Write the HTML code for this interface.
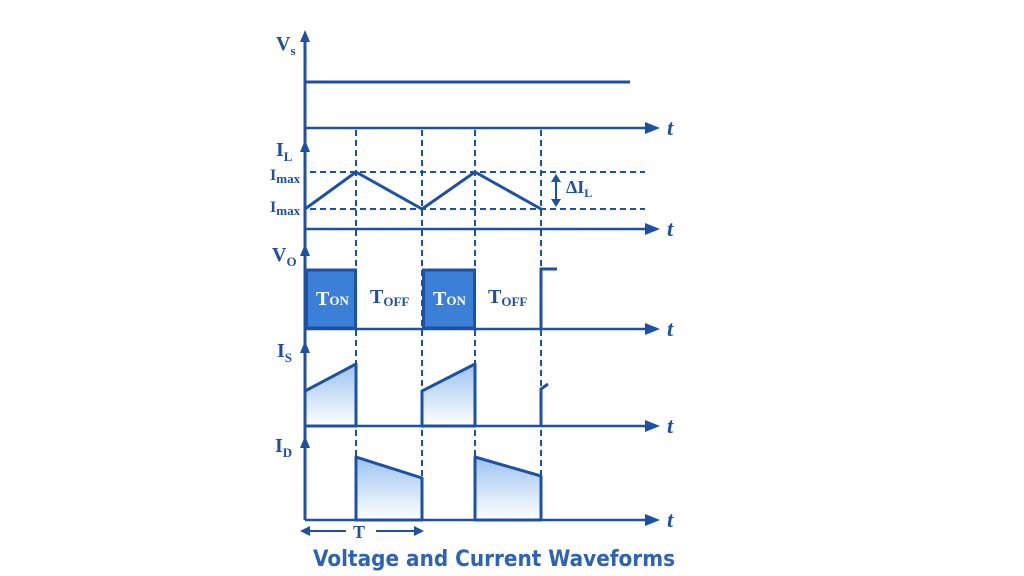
<!DOCTYPE html>
<html><head><meta charset="utf-8"><style>
html,body{margin:0;padding:0;background:#fff;}
svg{display:block}
.lbl{font-family:"Liberation Serif",serif;font-weight:bold;fill:#1f4f9e}
</style></head><body>
<svg width="1024" height="576" viewBox="0 0 1024 576" xmlns="http://www.w3.org/2000/svg">
<defs>
<linearGradient id="g" x1="0" y1="0" x2="0" y2="1"><stop offset="0" stop-color="#9cc3ef"/><stop offset="1" stop-color="#ffffff"/></linearGradient>
</defs>
<g stroke="#1d51a6" fill="none">
<line x1="305" y1="520" x2="305" y2="34" stroke-width="3"/>
<g fill="#1d51a6" stroke="none">
<path d="M305,30 L300,42 L310,42 z"/>
<path d="M305,140 L300,152 L310,152 z"/>
<path d="M305,244 L300,256 L310,256 z"/>
<path d="M305,341 L300,353 L310,353 z"/>
<path d="M305,436 L300,448 L310,448 z"/>
</g>
<g stroke-width="2.5">
<line x1="305" y1="128" x2="648" y2="128"/>
<line x1="305" y1="229" x2="648" y2="229"/>
<line x1="305" y1="329" x2="648" y2="329"/>
<line x1="305" y1="426" x2="648" y2="426"/>
<line x1="305" y1="520" x2="648" y2="520"/>
</g>
<g fill="#1d51a6" stroke="none">
<path d="M660,128 L645,122 L645,134 z"/>
<path d="M660,229 L645,223 L645,235 z"/>
<path d="M660,329 L645,323 L645,335 z"/>
<path d="M660,426 L645,420 L645,432 z"/>
<path d="M660,520 L645,514 L645,526 z"/>
</g>
<line x1="305" y1="82" x2="630" y2="82" stroke-width="3"/>
<g stroke-width="2" stroke-dasharray="6,4">
<line x1="356" y1="130" x2="356" y2="520"/>
<line x1="422" y1="130" x2="422" y2="520"/>
<line x1="475" y1="130" x2="475" y2="520"/>
<line x1="541" y1="130" x2="541" y2="520"/>
<line x1="310" y1="172" x2="645" y2="172"/>
<line x1="310" y1="209" x2="645" y2="209"/>
</g>
<polyline points="305,209 356,172 422,209 475,172 541,209" stroke-width="3" stroke-linejoin="round"/>
<line x1="556" y1="178" x2="556" y2="203" stroke-width="2"/>
<g fill="#1d51a6" stroke="none">
<path d="M556,174 L551,182 L561,182 z"/>
<path d="M556,207 L551,199 L561,199 z"/>
</g>
<rect x="306.5" y="270" width="49" height="58" fill="#3b80d6" stroke-width="3"/>
<rect x="423.5" y="270" width="51" height="58" fill="#3b80d6" stroke-width="3"/>
<polyline points="541,329 541,269 557,269" stroke-width="3"/>
<path d="M305,426 L305,391 L356,364 L356,426 z" fill="url(#g)" stroke-width="3" stroke-linejoin="round"/>
<path d="M422,426 L422,391 L475,364 L475,426 z" fill="url(#g)" stroke-width="3" stroke-linejoin="round"/>
<polyline points="541,426 541,389 548,384" stroke-width="3"/>
<path d="M356,520 L356,457 L422,478 L422,520 z" fill="url(#g)" stroke-width="3" stroke-linejoin="round"/>
<path d="M475,520 L475,457 L541,476 L541,520 z" fill="url(#g)" stroke-width="3" stroke-linejoin="round"/>
<line x1="306" y1="531" x2="346" y2="531" stroke-width="2"/>
<line x1="376" y1="531" x2="418" y2="531" stroke-width="2"/>
<g fill="#1d51a6" stroke="none">
<path d="M300,531 L310,526 L310,536 z"/>
<path d="M424,531 L414,526 L414,536 z"/>
</g>
</g>
<text class="lbl" x="276" y="50" font-size="20">V<tspan font-size="13" dy="5">s</tspan></text>
<text class="lbl" x="276" y="156" font-size="20">I<tspan font-size="13" dy="5">L</tspan></text>
<text class="lbl" x="270" y="180" font-size="16">I<tspan font-size="13" dy="3">max</tspan></text>
<text class="lbl" x="270" y="212" font-size="16">I<tspan font-size="13" dy="3">max</tspan></text>
<text class="lbl" x="566" y="193" font-size="18">ΔI<tspan font-size="12" dy="4">L</tspan></text>
<text class="lbl" x="272" y="261" font-size="20">V<tspan font-size="13" dy="5">O</tspan></text>
<text class="lbl" x="277" y="357" font-size="20">I<tspan font-size="13" dy="5">S</tspan></text>
<text class="lbl" x="275" y="452" font-size="20">I<tspan font-size="13" dy="5">D</tspan></text>
<text class="lbl" x="316" y="305" font-size="20" style="fill:#fff">T<tspan font-size="13">ON</tspan></text>
<text class="lbl" x="433" y="305" font-size="20" style="fill:#fff">T<tspan font-size="13">ON</tspan></text>
<text class="lbl" x="370" y="303" font-size="20">T<tspan font-size="13" dy="3">OFF</tspan></text>
<text class="lbl" x="488" y="303" font-size="20">T<tspan font-size="13" dy="3">OFF</tspan></text>
<text class="lbl" x="353" y="538" font-size="18">T</text>
<g font-family="Liberation Serif,serif" font-style="italic" font-weight="bold" font-size="22" fill="#1d51a6">
<text x="667" y="135">t</text><text x="667" y="236">t</text><text x="667" y="336">t</text><text x="667" y="433">t</text><text x="667" y="527">t</text>
</g>
<text x="313" y="566" font-family="DejaVu Sans,sans-serif" font-weight="bold" font-size="22" fill="#2e63b3" textLength="362" lengthAdjust="spacingAndGlyphs">Voltage and Current Waveforms</text>
</svg>
</body></html>
